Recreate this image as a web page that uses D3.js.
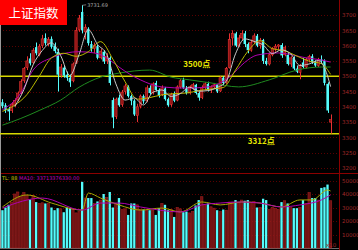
<!DOCTYPE html>
<html>
<head>
<meta charset="utf-8">
<script src="https://cdn.jsdelivr.net/npm/d3@7"></script>
<style>
  html, body { margin: 0; padding: 0; background: #000; }
  svg { display: block; }
</style>
</head>
<body>
<svg id="chart" width="358" height="250"></svg>
<script>
// daily candles, oldest first
const opens = [3415,3405,3392,3388,3405,3422,3448,3485,3528,3558,3545,3595,3572,3600,3625,3605,3622,3600,3580,3505,3528,3505,3495,3485,3542,3652,3710,3645,3655,3605,3590,3598,3560,3580,3550,3560,3422,3368,3430,3408,3450,3465,3435,3420,3372,3402,3435,3420,3462,3445,3478,3455,3440,3460,3425,3408,3442,3422,3465,3488,3460,3445,3462,3472,3445,3430,3462,3475,3455,3465,3472,3452,3495,3480,3528,3625,3640,3600,3625,3640,3605,3585,3612,3632,3600,3618,3550,3540,3570,3590,3598,3602,3570,3570,3540,3560,3525,3512,3545,3530,3555,3565,3545,3535,3555,3550,3475,3350];
const highs = [3425,3412,3400,3415,3428,3450,3490,3530,3565,3575,3592,3610,3605,3635,3640,3628,3630,3610,3590,3540,3535,3515,3505,3545,3660,3700,3731.69,3670,3660,3615,3610,3602,3590,3585,3575,3565,3430,3430,3440,3455,3475,3470,3440,3425,3410,3440,3440,3470,3470,3480,3485,3460,3470,3465,3430,3445,3450,3470,3490,3495,3468,3470,3478,3475,3450,3470,3480,3482,3470,3478,3475,3500,3500,3530,3640,3650,3645,3635,3650,3648,3610,3620,3640,3638,3625,3622,3560,3575,3595,3605,3605,3608,3600,3578,3565,3565,3535,3540,3560,3560,3570,3572,3552,3560,3568,3555,3480,3375];
const lows = [3395,3380,3355,3380,3400,3418,3440,3478,3520,3535,3540,3568,3565,3592,3600,3598,3590,3575,3450,3495,3495,3485,3465,3480,3540,3645,3640,3620,3600,3580,3575,3555,3555,3540,3540,3470,3330,3360,3400,3400,3440,3430,3405,3370,3350,3395,3410,3415,3440,3440,3450,3430,3435,3420,3400,3400,3415,3418,3460,3458,3440,3440,3455,3440,3420,3425,3455,3450,3445,3460,3445,3448,3470,3475,3525,3600,3595,3595,3615,3595,3575,3580,3605,3595,3590,3540,3535,3535,3565,3580,3585,3560,3565,3535,3530,3520,3510,3490,3525,3525,3545,3540,3530,3530,3540,3470,3380,3312];
const closes = [3402,3390,3385,3408,3420,3445,3482,3525,3550,3542,3585,3575,3598,3622,3608,3620,3596,3582,3505,3530,3502,3495,3480,3540,3650,3690,3650,3660,3608,3590,3600,3560,3582,3548,3565,3478,3365,3425,3405,3448,3468,3435,3420,3375,3400,3435,3418,3462,3445,3475,3455,3438,3462,3425,3405,3440,3420,3465,3485,3462,3445,3465,3472,3445,3430,3462,3475,3455,3465,3472,3450,3495,3478,3525,3620,3640,3600,3625,3640,3605,3585,3610,3632,3600,3618,3550,3540,3570,3590,3598,3602,3568,3595,3540,3560,3525,3515,3535,3530,3555,3565,3545,3535,3555,3550,3478,3388,3358];
const volumes = [28000,30000,32000,34000,40000,41500,38000,41000,39000,36000,39000,34000,33000,33500,33000,33000,30000,28000,29500,29000,26500,30000,29500,29000,26000,27000,49000,37000,37000,37000,33000,34500,35500,40000,37500,41500,30000,33000,37000,28500,29000,24500,33000,33000,32000,28500,28500,28000,28000,28000,24500,29500,33000,32000,28000,28500,23000,30000,29000,26500,27000,26000,27000,31500,35500,38000,32000,33000,30500,29500,28000,27000,28500,28000,34000,34000,35500,33500,35500,35000,35500,33500,34500,30000,30000,36500,35500,28500,30000,29500,28500,34000,35000,33000,30000,29500,29500,30000,35500,33000,41000,37000,37000,35500,44500,45000,47000,35000];

// moving averages: candle index -> value
const ma5Idx = [4,7,10,13,16,19,22,25,28,31,34,37,40,43,46,49,52,55,58,61,64,67,70,73,76,79,82,85,88,91,94,97,100,103,106,107];
const ma5Val = [3401,3456,3537,3584,3609,3567,3502,3571,3652,3604,3571,3475,3422,3429,3406,3447,3455,3434,3443,3464,3451,3453,3463,3484,3573,3622,3614,3602,3574,3586,3573,3535,3540,3551,3501,3466];
const ma10Idx = [0,4,8,12,16,20,24,28,32,36,40,44,48,52,56,60,64,68,72,76,80,84,88,92,96,100,104,107];
const ma10Val = [3385,3405,3440,3500,3560,3575,3565,3580,3613,3556,3482,3425,3430,3439,3443,3445,3453,3458,3463,3520,3581,3616,3590,3583,3566,3549,3541,3506];
const ma20Idx = [0,6,10,16,25,30,35,38,45,52,60,67,74,79,83,90,99,104,107];
const ma20Val = [3390,3445,3520,3560,3580,3576,3553,3530,3488,3465,3461,3465,3497,3545,3569,3576,3560,3553,3546];
const ma60Idx = [0,6,12,19,25,32,38,48,55,61,68,77,87,96,104,107];
const ma60Val = [3340,3362,3388,3422,3464,3497,3510,3520,3497,3488,3478,3465,3488,3520,3530,3530];
const volMa5Idx = [0,8,16,26,28,32,38,45,52,58,65,71,78,84,91,97,101,106,107];
const volMa5Val = [30400,39300,33300,28100,40700,37000,31900,28100,29600,26700,34100,31900,34100,33300,30400,35600,35600,43000,42200];
const volMa10Idx = [0,13,26,32,38,45,58,65,71,78,84,91,97,104,107];
const volMa10Val = [29600,37000,28100,33300,33300,30400,26700,31900,33300,34100,33300,30400,31900,35600,39300];

const priceTicks = [3700,3650,3600,3550,3500,3450,3400,3350,3300,3250,3200];
const volTicks = [50000,40000,30000,20000,10000];
const keyLevels = [3500, 3312];
const keyLabels = ["3500点", "3312点"];
const keyLabelIdx = [59, 80];
const peakValue = 3731.69;
const title = "上证指数";

const svg = d3.select("#chart");
const W = 358, H = 250;
const plotRight = 339;

svg.append("rect").attr("width", W).attr("height", H).attr("fill", "#000");

const x = d3.scaleBand().domain(d3.range(closes.length)).range([0.5, 332.5]).padding(0.25);
const cx = (i) => x(i) + x.bandwidth() / 2;
const y = d3.scaleLinear().domain([3200, 3700]).range([168, 15]);
const yv = d3.scaleLinear().domain([0, 50000]).range([248, 180.5]);

const red = "#e83232";
const redFill = "#8e1414";
const volRedFill = "#6e1212";
const cyan = "#54fcfc";

// grid
svg.append("g").selectAll("line").data(priceTicks).join("line")
  .attr("x1", 0).attr("x2", plotRight)
  .attr("y1", (d) => Math.round(y(d)) + 0.5).attr("y2", (d) => Math.round(y(d)) + 0.5)
  .attr("stroke", "#5a0000").attr("stroke-dasharray", "1,2");
svg.append("g").selectAll("line").data(volTicks).join("line")
  .attr("x1", 0).attr("x2", plotRight)
  .attr("y1", (d) => Math.round(yv(d)) + 0.5).attr("y2", (d) => Math.round(yv(d)) + 0.5)
  .attr("stroke", "#5a0000").attr("stroke-dasharray", "1,2");

// right axes
const yAxis = d3.axisRight(y).tickValues(priceTicks).tickFormat(d3.format("d")).tickSize(0).tickPadding(0);
const gy = svg.append("g").attr("transform", `translate(${plotRight + 3},0)`).call(yAxis);
const yvAxis = d3.axisRight(yv).tickValues(volTicks).tickFormat(d3.format("d")).tickSize(0).tickPadding(0);
const gyv = svg.append("g").attr("transform", `translate(${plotRight + 3},0)`).call(yvAxis);
[gy, gyv].forEach((g) => {
  g.select(".domain").remove();
  g.selectAll("text").attr("fill", "#a02828").attr("font-size", 5.5)
    .attr("font-family", "DejaVu Sans, sans-serif");
});

// frame lines
svg.append("line").attr("x1", plotRight + 0.5).attr("x2", plotRight + 0.5).attr("y1", 0).attr("y2", H)
  .attr("stroke", "#8b0000");
svg.append("line").attr("x1", 0).attr("x2", W).attr("y1", 173.5).attr("y2", 173.5)
  .attr("stroke", "#8b0000");
svg.append("line").attr("x1", 0.5).attr("x2", 0.5).attr("y1", 0).attr("y2", 248)
  .attr("stroke", "#9a9a9a");
svg.append("line").attr("x1", 0).attr("x2", plotRight).attr("y1", 248.5).attr("y2", 248.5)
  .attr("stroke", "#6a6a6a");

// key levels
svg.append("g").selectAll("line").data(keyLevels).join("line")
  .attr("x1", 0).attr("x2", plotRight)
  .attr("y1", (d) => y(d)).attr("y2", (d) => y(d))
  .attr("stroke", "#d8d800").attr("stroke-width", 1.4);

// moving averages
const maLine = (idx, val, scale) => d3.line()
  .x((d, k) => cx(idx[k]))
  .y((d) => scale(d))
  .curve(d3.curveMonotoneX)(val);
const priceMas = [
  [ma60Idx, ma60Val, "#1f8a1f"],
  [ma20Idx, ma20Val, "#b000b0"],
  [ma10Idx, ma10Val, "#b8b800"],
  [ma5Idx, ma5Val, "#c8c8c8"],
];

// candles
const candles = svg.append("g");
const isUp = (i) => closes[i] >= opens[i];
candles.selectAll("line").data(d3.range(closes.length)).join("line")
  .attr("x1", (i) => Math.round(cx(i)) + 0.5).attr("x2", (i) => Math.round(cx(i)) + 0.5)
  .attr("y1", (i) => y(highs[i])).attr("y2", (i) => y(lows[i]))
  .attr("stroke", (i) => (isUp(i) ? red : cyan));
candles.selectAll("rect").data(d3.range(closes.length)).join("rect")
  .attr("x", (i) => x(i)).attr("width", x.bandwidth())
  .attr("y", (i) => y(Math.max(opens[i], closes[i])))
  .attr("height", (i) => Math.max(1, Math.abs(y(opens[i]) - y(closes[i]))))
  .attr("fill", (i) => (isUp(i) ? redFill : cyan))
  .attr("stroke", (i) => (isUp(i) ? red : "none")).attr("stroke-width", 0.6);

priceMas.forEach(([idx, val, col]) => {
  svg.append("path").attr("d", maLine(idx, val, y)).attr("fill", "none")
    .attr("stroke", col).attr("stroke-width", 1);
});

// volume bars
svg.append("g").selectAll("rect").data(d3.range(volumes.length)).join("rect")
  .attr("x", (i) => x(i)).attr("width", x.bandwidth())
  .attr("y", (i) => yv(volumes[i])).attr("height", (i) => 248 - yv(volumes[i]))
  .attr("fill", (i) => (isUp(i) ? volRedFill : cyan))
  .attr("stroke", (i) => (isUp(i) ? "#a02020" : "none")).attr("stroke-width", 0.6);
[[volMa5Idx, volMa5Val, "#a8a800"], [volMa10Idx, volMa10Val, "#b000b0"]].forEach(([idx, val, col]) => {
  svg.append("path").attr("d", maLine(idx, val, yv)).attr("fill", "none")
    .attr("stroke", col).attr("stroke-width", 1);
});

// labels
keyLevels.forEach((lv, k) => {
  svg.append("text").attr("x", cx(keyLabelIdx[k])).attr("y", k === 0 ? y(lv) - 9 : y(lv) + 10)
    .attr("fill", "#e6e600").attr("font-size", 8).attr("font-weight", "bold")
    .attr("font-family", "Noto Sans CJK SC, sans-serif").text(keyLabels[k]);
});
const peakIdx = highs.indexOf(peakValue);
svg.append("line").attr("x1", cx(peakIdx)).attr("x2", cx(peakIdx) + 4)
  .attr("y1", y(peakValue)).attr("y2", y(peakValue) - 0.5).attr("stroke", "#bbb").attr("stroke-width", 0.6);
svg.append("text").attr("x", cx(peakIdx) + 5).attr("y", y(peakValue) + 1.5)
  .attr("fill", "#aaa").attr("font-size", 5).attr("font-family", "DejaVu Sans, sans-serif")
  .text(peakValue.toFixed(2));

svg.append("text").attr("x", 2).attr("y", 179.5).attr("font-size", 5)
  .attr("font-family", "DejaVu Sans, sans-serif")
  .call((t) => {
    t.append("tspan").attr("fill", "#c8c800").text("TL: 88 ");
    t.append("tspan").attr("fill", "#c000c0").text("MA10: 33713376330.00");
  });
svg.append("text").attr("x", 326).attr("y", 247).attr("fill", "#a02828")
  .attr("font-size", 5.5).attr("font-family", "DejaVu Sans, sans-serif").text("x10");

// title badge
svg.append("rect").attr("x", 0).attr("y", 0).attr("width", 67).attr("height", 25).attr("fill", "#ff0000");
svg.append("text").attr("x", 33.5).attr("y", 17.5).attr("text-anchor", "middle")
  .attr("fill", "#fff").attr("font-size", 12.5)
  .attr("font-family", "Noto Sans CJK SC, sans-serif").text(title);
</script>
</body>
</html>
